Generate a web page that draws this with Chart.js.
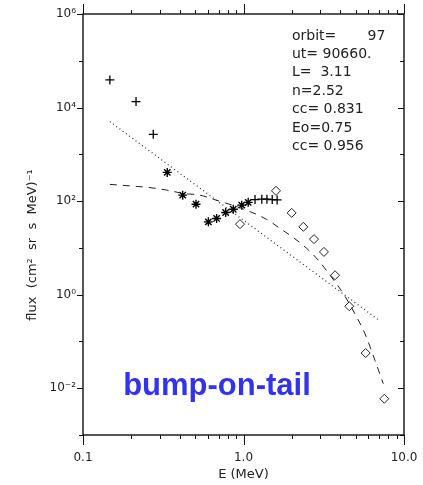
<!DOCTYPE html>
<html>
<head>
<meta charset="utf-8">
<script src="https://cdn.jsdelivr.net/npm/chart.js@4.4.1/dist/chart.umd.min.js"></script>
<style>
  html, body { margin: 0; padding: 0; background: #fff; }
</style>
</head>
<body>
<canvas id="fluxChart" width="423" height="485"></canvas>
<script>
// Measured spectrum (E in MeV, flux)
const plusE = [0.147, 0.214, 0.274, 1.18, 1.30, 1.40, 1.51, 1.62];
const plusF = [3.9e4, 1.34e4, 2.68e3, 108, 110, 110, 108, 106];

const starE = [0.335, 0.418, 0.506, 0.604, 0.68, 0.774, 0.864, 0.975, 1.07];
const starF = [411, 134, 86, 36, 42.6, 57, 67, 82, 94];

const diamondE = [0.951, 1.594, 1.995, 2.36, 2.75, 3.17, 3.72, 4.56, 5.77, 7.54];
const diamondF = [32.2, 166, 56, 28.2, 15.4, 8.2, 2.6, 0.565, 0.0565, 0.00596];

// Power law fit (n=2.52), end points
const powE = [0.147, 7.02];
const powF = [5000, 0.28];

// Bump-on-tail fit
const fitE = [0.147, 0.201, 0.255, 0.332, 0.422, 0.536, 0.681, 0.951, 1.395, 1.688, 2.04, 2.48, 2.92, 3.46, 4.19, 5.07, 5.71, 6.6, 7.43];
const fitF = [228, 210, 196, 172, 146, 134, 104, 72, 40.6, 26, 16.7, 9.7, 5.5, 2.6, 1.05, 0.333, 0.147, 0.039, 0.0125];

// Axis ticks
const xTickVals = [0.1, 0.2, 0.3, 0.4, 0.5, 0.6, 0.7, 0.8, 0.9, 1, 2, 3, 4, 5, 6, 7, 8, 9, 10];
const xMajor = [0.1, 1, 10];
const xMajorLabels = ['0.1', '1.0', '10.0'];
const yTickVals = [1e-3, 1e-2, 1e-1, 1, 1e1, 1e2, 1e3, 1e4, 1e5, 1e6];
const yMajor = [1e-2, 1, 1e2, 1e4, 1e6];
const yMajorLabels = ['10⁻²', '10⁰', '10²', '10⁴', '10⁶'];

const infoLines = ['orbit=       97', 'ut= 90660.', 'L=  3.11', 'n=2.52', 'cc= 0.831', 'Eo=0.75', 'cc= 0.956'];

function pts(xs, ys) {
    return xs.map((x, i) => ({ x: x, y: ys[i] }));
}

function findLabel(v, vals, labels) {
    const i = vals.findIndex(m => Math.abs(Math.log10(m) - Math.log10(v)) < 1e-6);
    return i >= 0 ? labels[i] : '';
}

// frame, mirrored ticks and text in the plot
const framePlugin = {
    id: 'frame',
    afterDraw(chart) {
        const { ctx, chartArea: a, scales } = chart;
        const xs = scales.x, ys = scales.y;
        ctx.save();
        ctx.strokeStyle = '#111';
        ctx.lineWidth = 1.4;
        ctx.strokeRect(a.left, a.top, a.right - a.left, a.bottom - a.top);

        ctx.lineWidth = 1;
        ctx.beginPath();
        xTickVals.forEach(v => {
            const px = Math.round(xs.getPixelForValue(v)) + 0.5;
            const len = xMajor.includes(v) ? 10 : 4;
            ctx.moveTo(px, a.bottom); ctx.lineTo(px, a.bottom + len);
            ctx.moveTo(px, a.top); ctx.lineTo(px, a.top - len);
        });
        yTickVals.forEach(v => {
            const py = Math.round(ys.getPixelForValue(v)) + 0.5;
            const len = yMajor.includes(v) ? 6 : 4;
            ctx.moveTo(a.left - len, py); ctx.lineTo(a.left, py);
            ctx.moveTo(a.right - len, py); ctx.lineTo(a.right, py);
        });
        ctx.stroke();

        // y axis title
        ctx.fillStyle = '#222';
        ctx.font = '13px "DejaVu Sans"';
        ctx.textAlign = 'center';
        ctx.textBaseline = 'middle';
        ctx.save();
        ctx.translate(33, 245);
        ctx.rotate(-Math.PI / 2);
        ctx.fillText('flux  (cm²  sr  s  MeV)⁻¹', 0, 0);
        ctx.restore();

        // fit parameters
        ctx.font = '14px "DejaVu Sans"';
        ctx.textAlign = 'left';
        infoLines.forEach((t, i) => ctx.fillText(t, 292, 36 + i * 18.4));

        ctx.fillStyle = '#3333ee';
        ctx.font = 'bold 31px "Liberation Sans"';
        ctx.textAlign = 'center';
        ctx.textBaseline = 'alphabetic';
        ctx.fillText('bump-on-tail', 217, 395);
        ctx.restore();
    }
};

const ctx = document.getElementById('fluxChart').getContext('2d');
new Chart(ctx, {
    type: 'scatter',
    data: {
        datasets: [
            {
                data: pts(powE, powF), showLine: true, borderColor: '#222', borderWidth: 1.2,
                borderDash: [1, 3], pointRadius: 0
            },
            {
                data: pts(fitE, fitF), showLine: true, borderColor: '#222', borderWidth: 1,
                borderDash: [7, 6], pointRadius: 0, cubicInterpolationMode: 'monotone'
            },
            {
                data: pts(plusE, plusF), pointStyle: 'cross', pointRadius: 4.5,
                pointBorderColor: '#000', pointBorderWidth: 1.3
            },
            {
                data: pts(starE, starF), pointStyle: 'star', pointRadius: 4.5,
                pointBorderColor: '#000', pointBorderWidth: 1.4
            },
            {
                data: pts(diamondE, diamondF), pointStyle: 'rectRot', pointRadius: 4.5,
                pointBorderColor: '#222', pointBackgroundColor: 'rgba(0,0,0,0)', pointBorderWidth: 1
            }
        ]
    },
    options: {
        responsive: false,
        animation: false,
        layout: { padding: { top: 14, right: 19, left: 0, bottom: 0 } },
        plugins: { legend: { display: false }, tooltip: { enabled: false } },
        scales: {
            x: {
                type: 'logarithmic', min: 0.1, max: 10,
                afterBuildTicks: s => { s.ticks = xTickVals.map(v => ({ value: v })); },
                afterFit: s => { s.height = 50; s.paddingLeft = 0; s.paddingRight = 0; },
                grid: { display: true, drawOnChartArea: false, drawTicks: true, tickLength: 10, tickColor: 'rgba(0,0,0,0)' },
                border: { display: false },
                ticks: {
                    autoSkip: false, maxRotation: 0, padding: 6, color: '#222',
                    font: { family: 'DejaVu Sans', size: 12 },
                    callback: v => findLabel(v, xMajor, xMajorLabels)
                },
                title: {
                    display: true, text: 'E (MeV)', color: '#222',
                    font: { family: 'DejaVu Sans', size: 13 },
                    padding: { top: 0, bottom: 3 }
                }
            },
            y: {
                type: 'logarithmic', min: 1e-3, max: 1e6,
                afterBuildTicks: s => { s.ticks = yTickVals.map(v => ({ value: v })); },
                afterFit: s => { s.width = 83; s.paddingTop = 0; s.paddingBottom = 0; },
                grid: { display: true, drawOnChartArea: false, drawTicks: true, tickLength: 6, tickColor: 'rgba(0,0,0,0)' },
                border: { display: false },
                ticks: {
                    autoSkip: false, padding: 1, color: '#222',
                    font: { family: 'DejaVu Sans', size: 12 },
                    callback: v => findLabel(v, yMajor, yMajorLabels)
                }
            }
        }
    },
    plugins: [framePlugin]
});
</script>
</body>
</html>
